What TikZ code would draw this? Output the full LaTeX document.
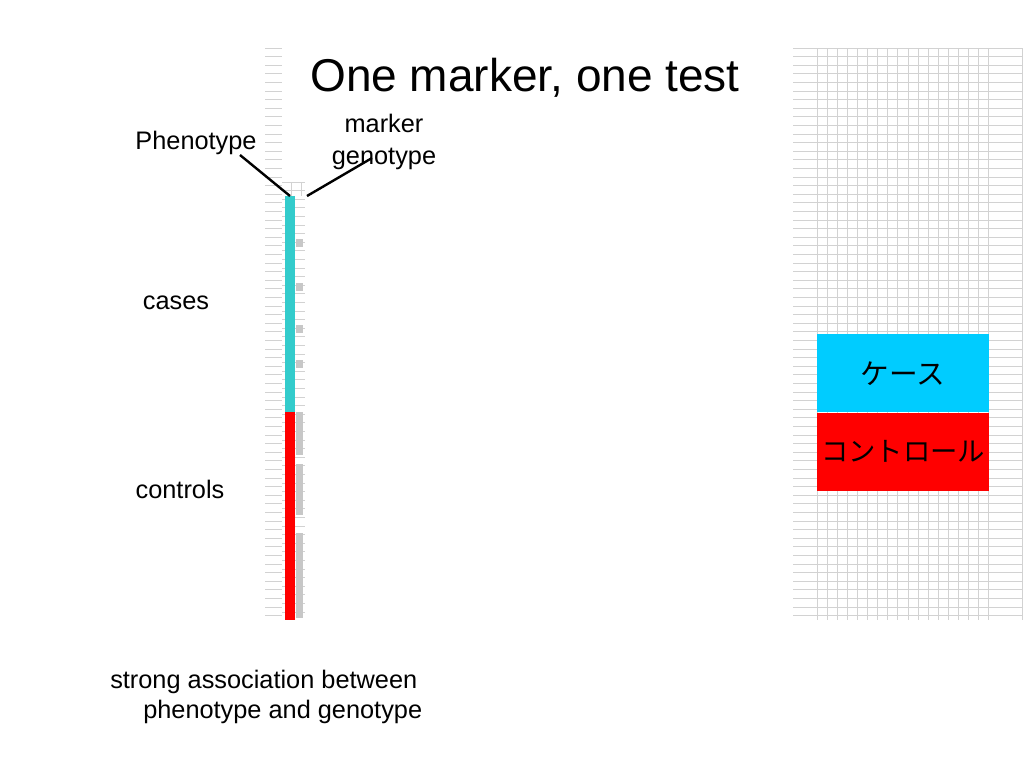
\documentclass[tikz,border=0pt]{standalone}
\usepackage{fontspec}
\setmainfont{Liberation Sans}
\newfontfamily\jpfont{Noto Sans CJK JP}
\usetikzlibrary{positioning}
\definecolor{casecol}{RGB}{51,204,204}
\definecolor{boxcyan}{RGB}{0,204,255}
\definecolor{gridcol}{RGB}{210,210,210}
\begin{document}
\begin{tikzpicture}[x=0.75pt,y=-0.75pt,
    every node/.style={font=\fontsize{19}{23.5}\selectfont,inner sep=0pt},
    gline/.style={gridcol,line width=0.6pt},
    gbox/.style={fill=black!22},
    pointer/.style={black,line width=1.8pt},
  ]
  \useasboundingbox (0,0) rectangle (1024,768);
  % background grids
  \foreach \y in {48,56.6,...,620} {
    \draw[gline] (265,\y) -- (282,\y);
    \draw[gline] (793,\y) -- (1022,\y);
  }
  \foreach \y in {182,190.6,...,620}
    \draw[gline] (282,\y) -- (305,\y);
  \foreach \x in {291,301}
    \draw[gline] (\x,182) -- (\x,196);
  \foreach \x in {817,827.1,...,990}
    \draw[gline] (\x,48) -- (\x,620);
  \draw[gline] (1022,48) -- (1022,620);
  % title
  \node (title) at (525,78) {\fontsize{34.5}{41}\selectfont One marker, one test};
  % phenotype column
  \fill[casecol] (285,196) rectangle (295,412);
  \fill[red] (285,412) rectangle (295,620);
  \foreach \y in {243,287,329,364}
    \fill[gbox] (296,\y-4) rectangle (303,\y+4);
  \foreach \a/\b in {412/455,464/515,533/618}
    \fill[gbox] (296,\a) rectangle (303,\b);
  \coordinate (phetop) at (290,196);
  \coordinate (gentop) at (307,196);
  % labels
  \node (pheno) at (196,143) {Phenotype};
  \node[align=center] (marker) at (384,142) {marker\\genotype};
  \node (cases) at (176,303) {cases};
  \node (controls) at (180,489) {controls};
  \node[anchor=west] (strong) at (110,682) {strong association between};
  \node[anchor=west] (phegen) at (143,712) {phenotype and genotype};
  \draw[pointer] (240,155) -- (phetop);
  \draw[pointer] (372,158) -- (gentop);
  % legend boxes
  \node[fill=boxcyan,minimum width=172*0.75pt,minimum height=78*0.75pt,anchor=north west]
    (kase) at (817,334) {\jpfont\fontsize{21.5}{26}\selectfont ケース};
  \node[fill=red,minimum width=172*0.75pt,minimum height=78*0.75pt,below=0pt of kase]
    (kontrol) {\jpfont\fontsize{20.5}{26}\selectfont コントロール};
\end{tikzpicture}
\end{document}
